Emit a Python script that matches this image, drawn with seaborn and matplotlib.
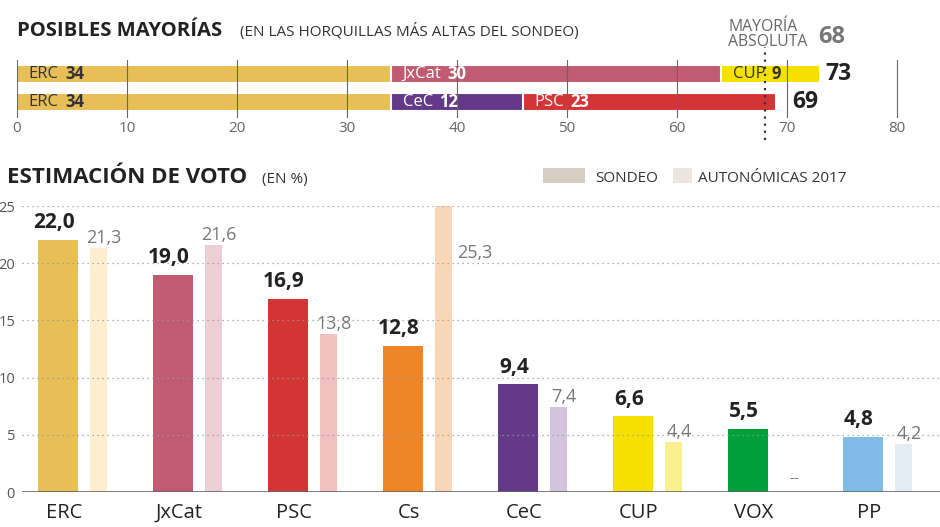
import numpy as np
import pandas as pd
import matplotlib
matplotlib.use("Agg")
from matplotlib import pyplot as plt
from matplotlib.patches import Rectangle
import seaborn as sns

# posibles mayorías (escaños)
filas = ["ERC + JxCat + CUP", "ERC + CeC + PSC"]
filas_partidos = [["ERC", "JxCat", "CUP"], ["ERC", "CeC", "PSC"]]
filas_escanos = [[34, 30, 9], [34, 12, 23]]
mayoria_absoluta = 68
ticks_escanos = [0, 10, 20, 30, 40, 50, 60, 70, 80]

# estimación de voto (%)
partidos = ["ERC", "JxCat", "PSC", "Cs", "CeC", "CUP", "VOX", "PP"]
sondeo = [22.0, 19.0, 16.9, 12.8, 9.4, 6.6, 5.5, 4.8]
autonomicas_2017 = [21.3, 21.6, 13.8, 25.3, 7.4, 4.4, np.nan, 4.2]
ticks_voto = [0, 5, 10, 15, 20, 25]

colores = {"ERC": "#e8bf56", "JxCat": "#c05b72", "PSC": "#d33535", "Cs": "#ee8627",
           "CeC": "#643a88", "CUP": "#f5e000", "VOX": "#00a03c", "PP": "#80bde6"}
colores_claros = {"ERC": "#fdeecf", "JxCat": "#edcfd7", "PSC": "#f2c0c0", "Cs": "#fad6b8",
                  "CeC": "#d2c4de", "CUP": "#fbf090", "VOX": "#eeeeee", "PP": "#e3ebf3"}
texto_oscuro = ["ERC", "CUP"]

W, H = 940, 527


def fx(px):
    return px / W


def fy(py):
    return 1 - py / H


def coma(v):
    return f"{v:.1f}".replace(".", ",")


sns.set_style("white")
plt.rcParams["font.family"] = ["Open Sans", "DejaVu Sans"]

fig = plt.figure(figsize=(W / 100, H / 100), dpi=100)

# ---------- posibles mayorías ----------
fig.text(fx(17), fy(36), "POSIBLES MAYORÍAS", fontsize=14.6, weight="bold", color="#222", va="baseline")
fig.text(fx(240), fy(36), "(EN LAS HORQUILLAS MÁS ALTAS DEL SONDEO)", fontsize=11, color="#333", va="baseline")
fig.text(fx(728), fy(19), "MAYORÍA\nABSOLUTA", fontsize=11.3, color="#666", va="top", linespacing=0.95)
fig.text(fx(818), fy(37), str(mayoria_absoluta), fontsize=17, weight="bold", color="#777", va="center")

ax1 = fig.add_axes([fx(17), fy(118), 1 - fx(17), 58 / H])
for k in reversed(range(3)):
    acumulado = [sum(e[:k + 1]) for e in filas_escanos]
    paleta = {f: colores[p[k]] for f, p in zip(filas, filas_partidos)}
    sns.barplot(x=acumulado, y=filas, hue=filas, palette=paleta, orient="h", width=0.643,
                saturation=1, edgecolor="white", linewidth=1.5, legend=False, ax=ax1)

totales_pad = [4, 12]
for i, (partes, escanos) in enumerate(zip(filas_partidos, filas_escanos)):
    inicio = 0
    for p, e in zip(partes, escanos):
        c = "#333" if p in texto_oscuro else "white"
        t = ax1.annotate(p, xy=(inicio, i), xytext=(8.5, 0), textcoords="offset points",
                         ha="left", va="center", fontsize=12, color=c)
        ax1.annotate(str(e), xy=(1, 0.5), xycoords=t, xytext=(4.5, 0), textcoords="offset points",
                     ha="left", va="center", fontsize=12, weight="bold", color=c)
        inicio += e
    ax1.annotate(str(inicio), xy=(inicio, i), xytext=(totales_pad[i], 0), textcoords="offset points",
                 ha="left", va="center", fontsize=16.5, weight="bold", color="#222")

ax1.axvline(mayoria_absoluta, ymin=-0.38, ymax=1.22, clip_on=False, color="#333",
            lw=1.6, ls=(0, (1, 2.2)), zorder=4)
ax1.set_xlim(0, (W - 17) / 11)
ax1.set_ylim(1.571, -0.5)
ax1.set_xticks(ticks_escanos)
ax1.set_yticks([])
ax1.tick_params(axis="x", length=0, pad=2, labelsize=11, labelcolor="#666")
ax1.grid(axis="x", color="#666", lw=0.8)
ax1.set_axisbelow(False)
ax1.set_xlabel("")
ax1.set_ylabel("")
sns.despine(ax=ax1, left=True, bottom=True)

# ---------- estimación de voto ----------
fig.text(fx(7), fy(183), "ESTIMACIÓN DE VOTO", fontsize=16, weight="bold", color="#222", va="baseline")
fig.text(fx(262), fy(183), "(EN %)", fontsize=11, color="#333", va="baseline")
fig.add_artist(Rectangle((fx(543), fy(183)), 42 / W, 15 / H, transform=fig.transFigure,
                         color="#d6cdc3", lw=0))
fig.text(fx(595), fy(182), "SONDEO", fontsize=11, color="#333", va="baseline")
fig.add_artist(Rectangle((fx(673), fy(183)), 19 / W, 15 / H, transform=fig.transFigure,
                         color="#ece6e1", lw=0))
fig.text(fx(698), fy(182), "AUTONÓMICAS 2017", fontsize=11, color="#333", va="baseline")

ax2 = fig.add_axes([fx(22), fy(492), 1 - fx(22), (492 - 206) / H])
desplaz = 0.352
ancho_aut = 0.148
df = pd.DataFrame({"partido": partidos, "pos": np.arange(len(partidos)),
                   "sondeo": sondeo, "autonomicas": autonomicas_2017})
sns.barplot(data=df, x="pos", y="sondeo", hue="partido", palette=colores, native_scale=True,
            width=0.348, saturation=1, linewidth=0, errorbar=None, legend=False, ax=ax2)
df_aut = df.dropna(subset=["autonomicas"]).assign(pos_aut=lambda d: d["pos"] + desplaz)
sns.barplot(data=df_aut, x="pos_aut", y="autonomicas", hue="partido", palette=colores_claros,
            native_scale=True, width=ancho_aut, saturation=1, linewidth=0, errorbar=None,
            legend=False, ax=ax2)

ymax = ticks_voto[-1]
for i, (v, a) in enumerate(zip(sondeo, autonomicas_2017)):
    ax2.annotate(coma(v), xy=(i, v), xytext=(-3, 8.6), textcoords="offset points",
                 ha="center", va="baseline", fontsize=15, weight="bold", color="#222")
    xa = i + desplaz
    if np.isnan(a):
        ax2.annotate("--", xy=(xa, 0), xytext=(4, 7), textcoords="offset points",
                     ha="center", va="baseline", fontsize=11, color="#777")
    elif a > ymax:
        ax2.annotate(coma(a), xy=(xa + ancho_aut / 2, ymax), xytext=(3.5, -37.5),
                     textcoords="offset points", ha="left", va="baseline", fontsize=13, color="#777")
    else:
        ax2.annotate(coma(a), xy=(xa, a), xytext=(4, 3.6), textcoords="offset points",
                     ha="center", va="baseline", fontsize=13, color="#777")

ax2.set_xlim(-(58 - 22) / 115, (W - 58) / 115)
ax2.set_ylim(0, ymax)
ax2.set_xticks(np.arange(len(partidos)) + 0.05)
ax2.set_xticklabels(partidos)
ax2.set_yticks(ticks_voto)
ax2.tick_params(axis="x", length=0, pad=8, labelsize=14.5, labelcolor="#222")
ax2.tick_params(axis="y", length=0, pad=5, labelsize=10.5, labelcolor="#555")
ax2.yaxis.grid(True, color="#999", ls=(0, (1, 3)), lw=0.9)
ax2.set_axisbelow(False)
ax2.axhline(0, color="#666", lw=1.2, zorder=3)
ax2.set_xlabel("")
ax2.set_ylabel("")
sns.despine(ax=ax2, left=True, bottom=True)

fig.savefig("out.png", dpi=100, facecolor="white")
